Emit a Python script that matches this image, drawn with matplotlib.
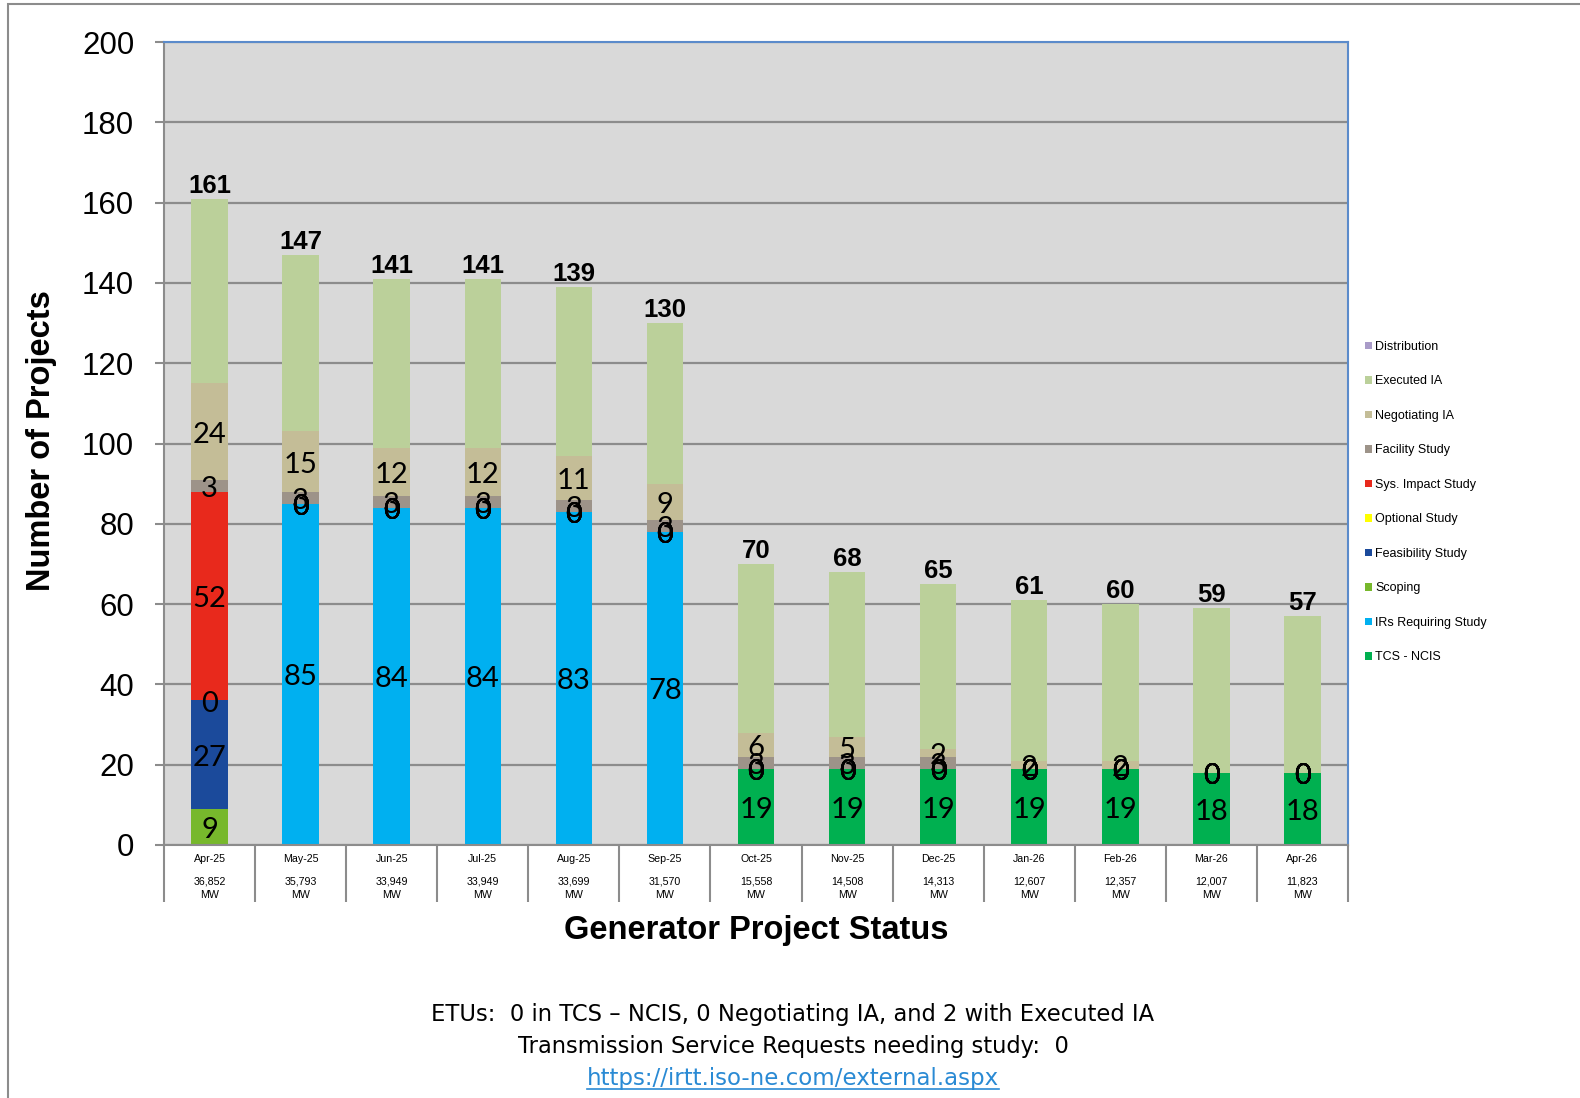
import matplotlib
matplotlib.use("Agg")
import matplotlib.pyplot as plt
from matplotlib.patches import Rectangle
from matplotlib.lines import Line2D
import matplotlib.transforms as mtransforms
import numpy as np

# ---- data ----
months = ["Apr-25", "May-25", "Jun-25", "Jul-25", "Aug-25", "Sep-25", "Oct-25",
          "Nov-25", "Dec-25", "Jan-26", "Feb-26", "Mar-26", "Apr-26"]
capacity_mw = ["36,852", "35,793", "33,949", "33,949", "33,699", "31,570", "15,558",
               "14,508", "14,313", "12,607", "12,357", "12,007", "11,823"]

tcs_ncis = [0, 0, 0, 0, 0, 0, 19, 19, 19, 19, 19, 18, 18]
irs_requiring_study = [0, 85, 84, 84, 83, 78, 0, 0, 0, 0, 0, 0, 0]
scoping = [9, 0, 0, 0, 0, 0, 0, 0, 0, 0, 0, 0, 0]
feasibility_study = [27, 0, 0, 0, 0, 0, 0, 0, 0, 0, 0, 0, 0]
optional_study = [0, 0, 0, 0, 0, 0, 0, 0, 0, 0, 0, 0, 0]
sys_impact_study = [52, 0, 0, 0, 0, 0, 0, 0, 0, 0, 0, 0, 0]
facility_study = [3, 3, 3, 3, 3, 3, 3, 3, 3, 0, 0, 0, 0]
negotiating_ia = [24, 15, 12, 12, 11, 9, 6, 5, 2, 2, 2, 0, 0]
executed_ia = [46, 44, 42, 42, 42, 40, 42, 41, 41, 40, 39, 41, 39]
distribution = [0, 0, 0, 0, 0, 0, 0, 0, 0, 0, 0, 0, 0]

# stacking order bottom -> top: (name, values, colour, label policy)
# label policy: "pos" = label only non-zero, "all" = label zeros too, None = no label
series = [
    ("TCS - NCIS", tcs_ncis, "#00B050", "pos"),
    ("IRs Requiring Study", irs_requiring_study, "#00B0F0", "pos"),
    ("Scoping", scoping, "#77B82C", "all"),
    ("Feasibility Study", feasibility_study, "#1B4A9B", "all"),
    ("Optional Study", optional_study, "#FFFF00", "all"),
    ("Sys. Impact Study", sys_impact_study, "#E8291C", "all"),
    ("Facility Study", facility_study, "#9D9389", "all"),
    ("Negotiating IA", negotiating_ia, "#C4BD97", "all"),
    ("Executed IA", executed_ia, "#BBD09A", None),
    ("Distribution", distribution, "#A99BC8", None),
]

W, H = 1580, 1098
fig = plt.figure(figsize=(W / 100, H / 100), dpi=100)
fig.patch.set_facecolor("white")

ax_l, ax_r, ax_t, ax_b = 164, 1348, 42, 845
ax = fig.add_axes([ax_l / W, 1 - ax_b / H, (ax_r - ax_l) / W, (ax_b - ax_t) / H])
ax.set_facecolor("#D9D9D9")

x = np.arange(len(months))
bottom = np.zeros(len(months))
handles = {}
label_font = dict(family=["Lato", "DejaVu Sans"], fontsize=21, color="black")
for name, vals, color, policy in series:
    vals = np.array(vals, dtype=float)
    bars = ax.bar(x, vals, width=0.4, bottom=bottom, color=color,
                  edgecolor="none", zorder=2, label=name)
    handles[name] = bars
    if policy is not None:
        for i, v in enumerate(vals):
            if v == 0 and policy == "pos":
                continue
            ax.annotate(f"{int(v)}", (x[i], bottom[i] + v / 2), xytext=(0, -2.2),
                        textcoords="offset points", ha="center", va="center",
                        zorder=4, **label_font)
    bottom = bottom + vals

# totals on top of each stack
for i, tot in enumerate(bottom):
    ax.annotate(f"{int(tot)}", (x[i], tot), xytext=(0, 0.5),
                textcoords="offset points", ha="center", va="bottom",
                fontsize=18.5, fontweight="bold", family="Liberation Sans",
                zorder=5)

# axes
ax.set_ylim(0, 200)
ax.set_xlim(-0.5, len(months) - 0.5)
ax.set_yticks(np.arange(0, 201, 20))
ax.yaxis.grid(True, color="#8C8C8C", linewidth=1.6, zorder=0)
ax.set_axisbelow(True)
ax.tick_params(axis="y", direction="out", length=6.5, width=1.5,
               color="#8C8C8C", pad=15, labelsize=22.5)
for lab in ax.get_yticklabels():
    lab.set_family("Liberation Sans")

# category separators as major ticks, month names as minor tick labels
ax.set_xticks(np.arange(-0.5, len(months), 1.0))
ax.set_xticklabels([])
ax.tick_params(axis="x", which="major", direction="out", length=41,
               width=1.5, color="#8C8C8C")
ax.set_xticks(x, minor=True)
ax.set_xticklabels(months, minor=True)
ax.tick_params(axis="x", which="minor", length=0, pad=6.5, labelsize=7.7)
for lab in ax.get_xticklabels(minor=True):
    lab.set_family("Liberation Sans")

trans = mtransforms.blended_transform_factory(ax.transData, ax.transAxes)
for i, mw in enumerate(capacity_mw):
    ax.text(x[i], -(888 - ax_b) / (ax_b - ax_t), f"{mw}\nMW", transform=trans,
            ha="center", va="center", fontsize=7.7, family="Liberation Sans",
            linespacing=1.45)

for side in ("left", "bottom"):
    ax.spines[side].set_color("#8C8C8C")
    ax.spines[side].set_linewidth(1.5)
for side in ("top", "right"):
    ax.spines[side].set_color("#5B8BCB")
    ax.spines[side].set_linewidth(1.5)

ax.set_ylabel("Number of Projects", fontsize=23.5, fontweight="bold",
              family="Liberation Sans")
ax.yaxis.set_label_coords(-(ax_l - 57) / (ax_r - ax_l), 1 - (441 - ax_t) / (ax_b - ax_t))

fig.text(756 / W, 1 - 930 / H, "Generator Project Status", ha="center",
         va="center", fontsize=23.5, fontweight="bold", family="Liberation Sans")

# legend, top entry first
order = [s[0] for s in series][::-1]
leg = ax.legend([handles[n] for n in order], order, loc="upper left",
                bbox_to_anchor=(1365 / W, 1 - 341 / H),
                bbox_transform=fig.transFigure, frameon=False,
                prop=dict(family="Liberation Sans", size=9),
                handlelength=0.55, handleheight=0.55, handletextpad=0.25,
                labelspacing=1.80, borderaxespad=0, borderpad=0)

# notes below the chart
note_font = ["Liberation Sans Narrow", "DejaVu Sans"]
fig.text(793 / W, 1 - 1015 / H,
         "ETUs:  0 in TCS \u2013 NCIS, 0 Negotiating IA, and 2 with Executed IA",
         ha="center", va="center", fontsize=16.3, family=note_font)
fig.text(793 / W, 1 - 1047 / H,
         "Transmission Service Requests needing study:  0",
         ha="center", va="center", fontsize=16.3, family=note_font)
link = fig.text(793 / W, 1 - 1078 / H, "https://irtt.iso-ne.com/external.aspx",
                ha="center", va="center", fontsize=16.5, family=note_font,
                color="#2A8AD4")

# underline the link
fig.canvas.draw()
bb = link.get_window_extent(fig.canvas.get_renderer())
uy = (1 - 1089 / H)
fig.add_artist(Line2D([bb.x0 / W, bb.x1 / W], [uy, uy], transform=fig.transFigure,
                      color="#2A8AD4", linewidth=1.2))

# outer frame (open on the right and bottom)
fig.add_artist(Rectangle((8 / W, -0.05), 1.2, 1.05 - 4 / H, transform=fig.transFigure,
                         fill=False, edgecolor="#8C8C8C", linewidth=1.5,
                         clip_on=False))

fig.savefig("out.png", dpi=100)
